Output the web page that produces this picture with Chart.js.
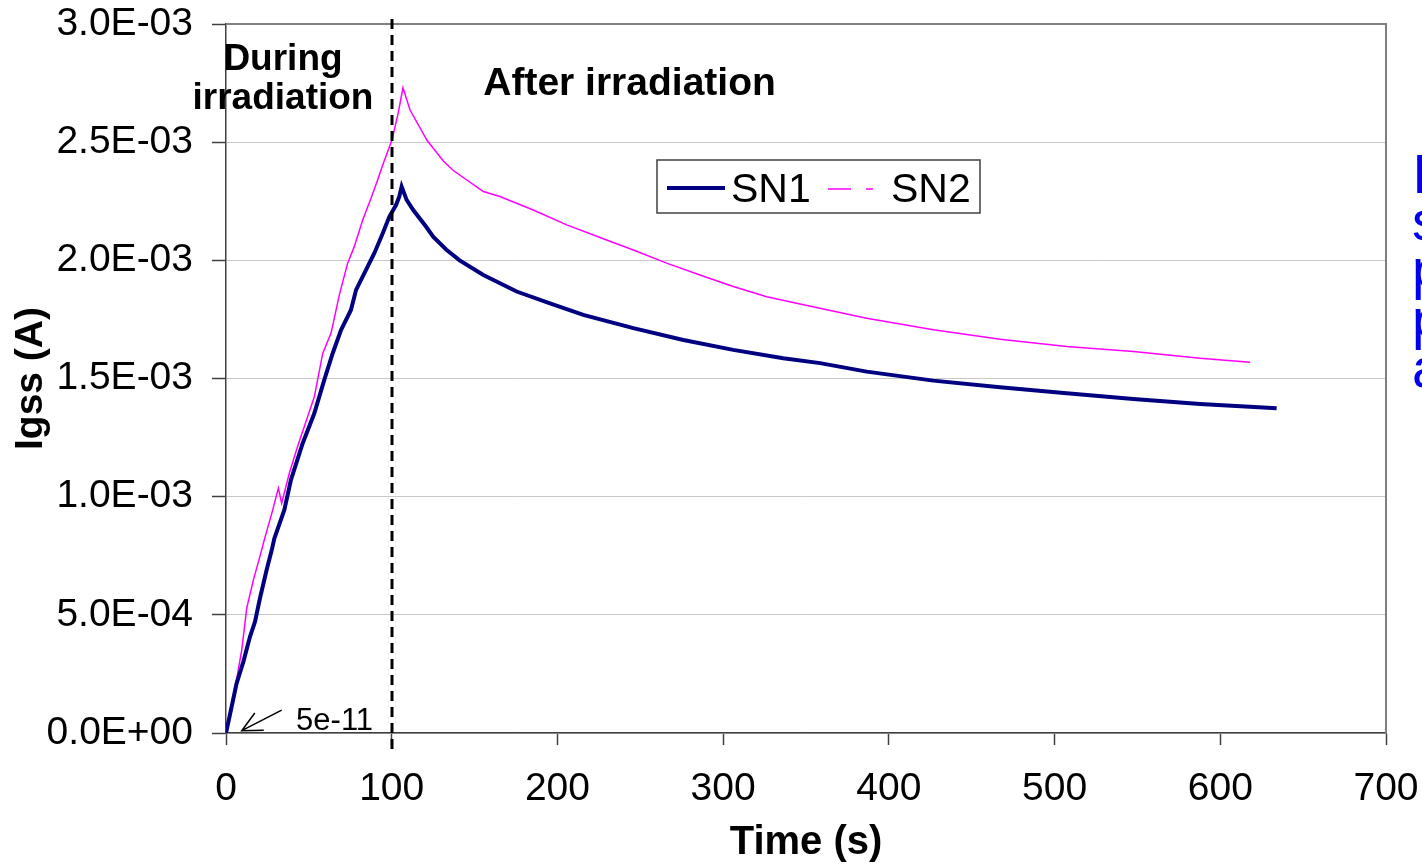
<!DOCTYPE html>
<html>
<head>
<meta charset="utf-8">
<script src="https://cdn.jsdelivr.net/npm/chart.js@4.4.0/dist/chart.umd.min.js"></script>
<style>
  html, body { margin: 0; padding: 0; background: #fff; }
</style>
</head>
<body>
<canvas id="chart" width="1422" height="865"></canvas>
<script>
// Series data (time in s, current in mA -> converted to A below)
const sn1Time = [0, 3.4, 6.4, 10.5, 14.5, 17.5, 20.5, 24.5, 27.6, 29.2,
    35.2, 39.2, 46.3, 53.3, 59.3, 64.4, 69.4, 75.4, 78.5, 84.5,
    89.5, 94.6, 98.6, 102.6, 104.6, 106, 109, 113, 121, 125,
    133, 141, 155.3, 175.4, 195.5, 215.6, 245.8, 276, 306.1, 336.3,
    358.5, 386.6, 426.8, 467.1, 507.3, 547.5, 587.8, 634];
const sn1_mA = [0, 0.111, 0.21, 0.302, 0.408, 0.471, 0.57, 0.69, 0.774, 0.824,
    0.944, 1.071, 1.226, 1.353, 1.494, 1.607, 1.705, 1.79, 1.875, 1.96,
    2.03, 2.115, 2.185, 2.234, 2.27, 2.312, 2.256, 2.213, 2.14, 2.10,
    2.045, 2.0, 1.938, 1.868, 1.818, 1.769, 1.713, 1.663, 1.621, 1.586,
    1.565, 1.529, 1.491, 1.463, 1.438, 1.413, 1.392, 1.374];

const sn2Time = [0, 3.4, 7.4, 9.5, 12.5, 16.5, 21.5, 23.1, 28.2, 31.6,
    33.6, 38.2, 43.2, 49.3, 53.3, 58.4, 63.4, 68.4, 73.4, 77.4,
    82.5, 87.5, 91.5, 94.9, 100.2, 103.8, 106.8, 111, 121.1, 131.1,
    137.2, 155.3, 165.3, 185.4, 205.6, 229.7, 245.8, 265.9, 286, 306.1,
    326.3, 346.4, 386.6, 426.8, 467.1, 507.3, 547.5, 587.8, 618];
const sn2_mA = [0, 0.097, 0.267, 0.351, 0.528, 0.647, 0.774, 0.817, 0.944, 1.036,
    0.972, 1.099, 1.212, 1.339, 1.423, 1.607, 1.692, 1.854, 1.988, 2.058,
    2.171, 2.263, 2.34, 2.41, 2.51, 2.62, 2.73, 2.637, 2.51, 2.42,
    2.38, 2.291, 2.27, 2.213, 2.15, 2.086, 2.044, 1.988, 1.938, 1.889,
    1.846, 1.815, 1.755, 1.706, 1.666, 1.635, 1.614, 1.586, 1.569];

const seriesLabels = ['SN1', 'SN2'];
const yTickLabels = ['0.0E+00', '5.0E-04', '1.0E-03', '1.5E-03', '2.0E-03', '2.5E-03', '3.0E-03'];
const sideLetters = ['I', 's', 'p', 'p', 'a'];

const FONT = '"Liberation Sans", Arial, sans-serif';
const NAVY = '#000080';
const MAGENTA = '#ff00ff';

function toPoints(times, mA) {
    return times.map((t, i) => ({ x: t, y: mA[i] / 1000 }));
}

// draws the extra bits: frame, dashed marker, notes, legend
const overlay = {
    id: 'overlay',
    afterDraw(chart) {
        const ctx = chart.ctx;
        const area = chart.chartArea;
        const xs = chart.scales.x;
        const ys = chart.scales.y;
        ctx.save();

        // top and right frame
        ctx.strokeStyle = '#808080';
        ctx.lineWidth = 2;
        ctx.beginPath();
        ctx.moveTo(area.left, area.top);
        ctx.lineTo(area.right, area.top);
        ctx.lineTo(area.right, area.bottom);
        ctx.stroke();

        // end of irradiation at t = 100 s
        const xm = Math.round(xs.getPixelForValue(100));
        ctx.strokeStyle = '#000';
        ctx.lineWidth = 3;
        ctx.setLineDash([10, 6]);
        ctx.beginPath();
        ctx.moveTo(xm, area.top - 5);
        ctx.lineTo(xm, area.bottom + 20);
        ctx.stroke();
        ctx.setLineDash([]);

        // text notes
        ctx.fillStyle = '#000';
        ctx.textAlign = 'center';
        ctx.textBaseline = 'alphabetic';
        ctx.font = 'bold 37px ' + FONT;
        ctx.fillText('During', xs.getPixelForValue(34.4), ys.getPixelForValue(2.806e-3));
        ctx.fillText('irradiation', xs.getPixelForValue(34.4), ys.getPixelForValue(2.641e-3));
        ctx.font = 'bold 39px ' + FONT;
        ctx.fillText('After irradiation', xs.getPixelForValue(243.5), ys.getPixelForValue(2.70e-3));

        ctx.textAlign = 'left';
        ctx.font = '31px ' + FONT;
        ctx.fillText('5e-11', xs.getPixelForValue(42.3), ys.getPixelForValue(0.0127e-3));

        // arrow to the start point
        const tipX = xs.getPixelForValue(9.5), tipY = ys.getPixelForValue(0.0097e-3);
        const tailX = xs.getPixelForValue(33.6), tailY = ys.getPixelForValue(0.097e-3);
        const ang = Math.atan2(tailY - tipY, tailX - tipX);
        ctx.strokeStyle = '#000';
        ctx.lineWidth = 1.5;
        ctx.beginPath();
        ctx.moveTo(tailX, tailY);
        ctx.lineTo(tipX, tipY);
        ctx.moveTo(tipX + 22 * Math.cos(ang - 0.46), tipY + 22 * Math.sin(ang - 0.46));
        ctx.lineTo(tipX, tipY);
        ctx.lineTo(tipX + 22 * Math.cos(ang + 0.46), tipY + 22 * Math.sin(ang + 0.46));
        ctx.stroke();

        // legend box
        ctx.strokeStyle = '#404040';
        ctx.lineWidth = 1.5;
        ctx.strokeRect(657, 160, 323, 53);
        ctx.strokeStyle = NAVY;
        ctx.lineWidth = 4;
        ctx.beginPath();
        ctx.moveTo(667, 188);
        ctx.lineTo(725, 188);
        ctx.stroke();
        ctx.strokeStyle = MAGENTA;
        ctx.lineWidth = 1.5;
        ctx.beginPath();
        ctx.moveTo(828, 189);
        ctx.lineTo(851, 189);
        ctx.moveTo(866, 189);
        ctx.lineTo(873, 189);
        ctx.stroke();
        ctx.fillStyle = '#000';
        ctx.font = '41px ' + FONT;
        ctx.fillText(seriesLabels[0], 731, 202);
        ctx.fillText(seriesLabels[1], 891, 202);

        // text cut off at the right edge
        ctx.fillStyle = '#0000ee';
        ctx.font = '56px ' + FONT;
        const baselines = [193, 240, 288, 338, 387];
        sideLetters.forEach((ch, i) => ctx.fillText(ch, 1412, baselines[i]));

        ctx.restore();
    }
};

const ctx = document.getElementById('chart').getContext('2d');
const chart = new Chart(ctx, {
    type: 'line',
    data: {
        datasets: [{
            label: seriesLabels[0],
            data: toPoints(sn1Time, sn1_mA),
            borderColor: NAVY,
            borderWidth: 4,
            pointRadius: 0,
            tension: 0,
            fill: false
        }, {
            label: seriesLabels[1],
            data: toPoints(sn2Time, sn2_mA),
            borderColor: MAGENTA,
            borderWidth: 1.5,
            pointRadius: 0,
            tension: 0,
            fill: false
        }]
    },
    options: {
        responsive: false,
        animation: false,
        devicePixelRatio: 1,
        layout: { padding: { top: 24, right: 36, left: 0, bottom: 0 } },
        plugins: {
            legend: { display: false },
            tooltip: { enabled: false }
        },
        scales: {
            x: {
                type: 'linear',
                min: 0,
                max: 700,
                afterFit: (s) => {
                    s.height = 132;
                    s.paddingLeft = 0;
                    s.paddingRight = 0;
                },
                ticks: {
                    stepSize: 100,
                    maxRotation: 0,
                    padding: 21,
                    color: '#000',
                    font: { family: FONT, size: 39 }
                },
                grid: {
                    drawOnChartArea: false,
                    tickLength: 12,
                    tickColor: '#404040',
                    tickWidth: 1.5
                },
                border: { color: '#404040', width: 1.5 },
                title: {
                    display: true,
                    text: 'Time (s)',
                    color: '#000',
                    font: { family: FONT, size: 40, weight: 'bold', lineHeight: 1 },
                    padding: { top: 0, bottom: 2 }
                }
            },
            y: {
                min: 0,
                max: 0.003,
                afterFit: (s) => {
                    s.width = 226;
                    s.paddingTop = 0;
                    s.paddingBottom = 0;
                },
                ticks: {
                    stepSize: 0.0005,
                    padding: 19,
                    color: '#000',
                    font: { family: FONT, size: 39 },
                    callback: (v, i) => yTickLabels[i]
                },
                grid: {
                    color: '#c8c8c8',
                    lineWidth: 1,
                    tickLength: 14,
                    tickColor: '#404040',
                    tickWidth: 1.5
                },
                border: { color: '#404040', width: 1.5 },
                title: {
                    display: true,
                    text: 'Igss (A)',
                    color: '#000',
                    font: { family: FONT, size: 39, weight: 'bold' },
                    padding: { top: 8, bottom: 0 }
                }
            }
        }
    },
    plugins: [overlay]
});
</script>
</body>
</html>
